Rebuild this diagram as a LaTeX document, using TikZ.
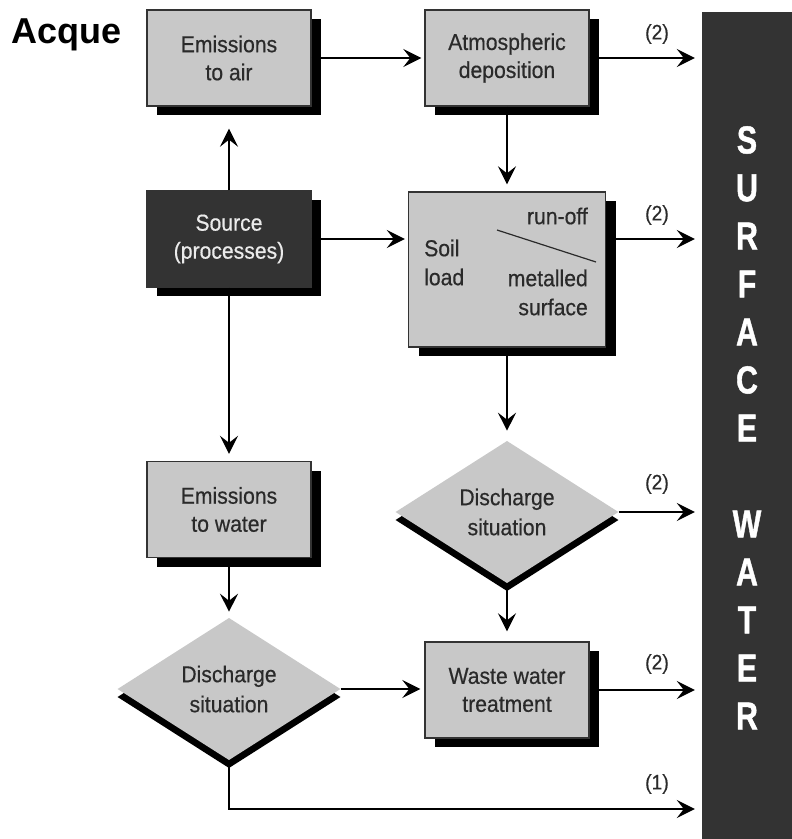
\documentclass[tikz,border=0pt]{standalone}
\usepackage{fontspec}
\setmainfont{Liberation Sans}
\newfontfamily\boxfont{Liberation Sans}[FakeStretch=0.92,FakeBold=0.5]
\newfontfamily\barfont{Liberation Sans}[FakeBold=1.2]
\usepackage{tikz}
\usetikzlibrary{shapes.geometric,shadows,arrows.meta}
\definecolor{boxgray}{HTML}{C8C8C8}
\definecolor{darkbox}{HTML}{333333}
\definecolor{txtgray}{HTML}{2A2A2A}

\begin{document}
\begin{tikzpicture}[x=1pt,y=-1pt,
	box/.style={shape=rectangle,draw=black!80,line width=1.4pt,fill=boxgray,text=txtgray,minimum width=164pt,minimum height=96pt,align=center,font=\boxfont\fontsize{23}{28}\selectfont,drop shadow={shadow xshift=10pt,shadow yshift=-9pt,fill=black,opacity=1}},
	srcbox/.style={box,fill=darkbox,text=black!8},
	dec/.style={shape=diamond,fill=boxgray,text=txtgray,minimum width=223pt,minimum height=114pt,inner sep=0pt,align=center,font=\boxfont\fontsize{23}{30}\selectfont,drop shadow={shadow xshift=0pt,shadow yshift=-8pt,fill=black,opacity=1}},
	txt/.style={text=txtgray,inner sep=0pt,font=\boxfont\fontsize{23}{29}\selectfont},
	lbl/.style={text=txtgray,font=\boxfont\fontsize{21}{22}\selectfont},
	letter/.style={text=white,font=\barfont\bfseries\fontsize{39}{39}\selectfont},
	arr/.style={-{Stealth[length=18pt,width=18pt,inset=7pt]},line width=1.4pt}]
	\useasboundingbox (0,0) rectangle (792,839);

	\node[anchor=base west,inner sep=0pt,font=\bfseries\fontsize{36}{36}\selectfont] (title) at (11,43) {Acque};

	\node[box] (air)   at (229,58)    {Emissions\\to air};
	\node[box] (atm)   at (507,58)    {Atmospheric\\deposition};
	\node[srcbox] (src) at (229,239)  {Source\\(processes)};
	\node[box,minimum width=197pt,minimum height=155pt] (soil) at (507,269.5) {};
	\node[box] (water) at (229,509.5) {Emissions\\to water};
	\node[dec] (rdis)  at (507,512)   {Discharge\\situation};
	\node[dec] (ldis)  at (229,689)   {Discharge\\situation};
	\node[box] (waste) at (507,690)   {Waste water\\treatment};

	% inside the soil box
	\node[txt,align=left,anchor=west] (soiltxt) at (424,262.5) {Soil\\load};
	\node[txt,anchor=east] (runoff) at (588,216) {run-off};
	\node[txt,align=right,anchor=east] (metal) at (588,292.5) {metalled\\surface};
	\draw[txtgray,line width=1.2pt] (497,230) -- (596,262);

	% the water body
	\node[fill=darkbox,minimum width=90pt,minimum height=827pt,inner sep=0pt] (surface) at (747,425.5) {};
	\foreach \ch/\k in {S/0,U/1,R/2,F/3,A/4,C/5,E/6,W/8,A/9,T/10,E/11,R/12}
		\node[letter] (w\k) at (747,{140+48*\k}) {\scalebox{0.78}[1]{\ch}};

	\path[arr] (src) edge[shorten >=22pt] (air);
	\path[arr] (air) edge[shorten >=3pt] (atm);
	\path[arr] (atm) edge[shorten >=7pt] (soil);
	\path[arr] (src.east) edge[shorten >=3pt] (src.east -| soil.west);
	\path[arr] (src) edge[shorten >=7pt] (water);
	\path[arr] (soil) edge[shorten >=10pt] (rdis);
	\path[arr] (rdis) edge[shorten >=10pt] (waste);
	\path[arr] (water) edge[shorten >=6pt] (ldis);
	\path[arr] (ldis.east) edge[shorten >=4pt] (ldis.east -| waste.west);

	\path[arr] (atm) edge[shorten >=7pt] (atm -| surface.west);
	\path[arr] (soil.east |- src.east) edge[shorten >=7pt] (src.east -| surface.west);
	\path[arr] (rdis) edge[shorten >=7pt] (rdis -| surface.west);
	\path[arr] (waste) edge[shorten >=7pt] (waste -| surface.west);
	\coordinate (bend) at (229,809);
	\draw[arr,shorten >=7pt] (ldis.south) -- (bend) -- (bend -| surface.west);

	\node[lbl] (l1) at (657,34)  {(2)};
	\node[lbl] (l2) at (657,215) {(2)};
	\node[lbl] (l3) at (657,484) {(2)};
	\node[lbl] (l4) at (657,664) {(2)};
	\node[lbl] (l5) at (657,784) {(1)};
\end{tikzpicture}
\end{document}
